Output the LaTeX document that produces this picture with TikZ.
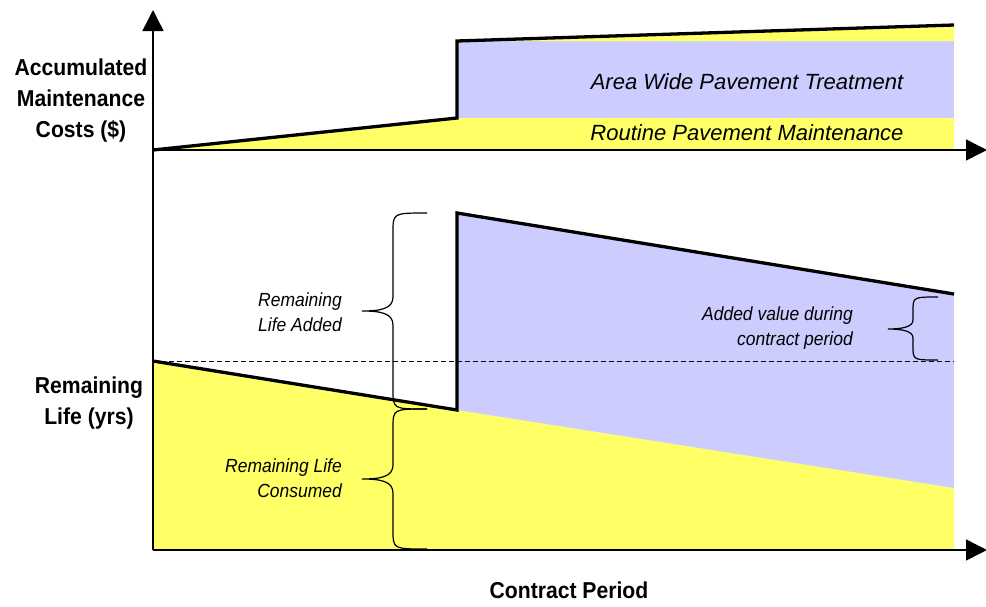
\documentclass[tikz,border=0pt]{standalone}
\usepackage{fontspec}
\setmainfont{Liberation Sans}
\newfontfamily\lblfont{Liberation Sans}[FakeStretch=0.92]
\usetikzlibrary{arrows.meta}
\definecolor{ylw}{HTML}{FFFF66}
\definecolor{blu}{HTML}{CCCCFF}
\tikzset{
  axis/.style={line width=1.4pt, -{Triangle[length=21pt,width=21pt]}},
  thick line/.style={line width=3.3pt, line join=miter},
  bracepath/.style={line width=1.2pt},
  biglabel/.style={font=\lblfont\bfseries\fontsize{23}{31}\selectfont, align=center, inner sep=0pt, anchor=base},
  arealabel/.style={font=\itshape\fontsize{22}{26}\selectfont, inner sep=0pt, anchor=base},
  smalllabel/.style={font=\lblfont\itshape\fontsize{19}{25}\selectfont, align=right, inner sep=0pt, anchor=base east},
}
\begin{document}
\begin{tikzpicture}[x=1pt,y=-1pt]
\useasboundingbox (0,0) rectangle (986,606);
% key points
\coordinate (O) at (153,550);
\coordinate (Ytop) at (153,10);
\coordinate (T0) at (153,150);
\coordinate (Txe) at (987,150);
\coordinate (Bxe) at (987,550);
% top chart fills
\fill[ylw] (153,150) -- (457,118) -- (457,150) -- cycle;
\fill[ylw] (457,118) rectangle (954,150);
\fill[blu] (457,41) rectangle (954,118);
\fill[ylw] (457,41) -- (954,25) -- (954,41) -- cycle;
% bottom chart fills
\fill[ylw] (153,361) -- (457,410) -- (954,488) -- (954,550) -- (153,550) -- cycle;
\fill[blu] (457,213) -- (954,294) -- (954,488) -- (457,410) -- cycle;
% dashed reference line
\draw[line width=0.9pt, dash pattern=on 5pt off 3pt] (153,361) -- (954,361);
% thick lines
\draw[thick line] (153,150) -- (457,118) -- (457,41) -- (954,25);
\draw[thick line] (153,361) -- (457,410) -- (457,213) -- (954,294);
% axes
\draw[axis] (O) -- (Ytop);
\draw[axis] (T0) -- (Txe);
\draw[axis] (O) -- (Bxe);
% braces
\draw[bracepath] (427,213) .. controls (393,213) and (393,213) .. (393,232)
  -- (393,297) .. controls (393,309) and (380,311) .. (362,311)
  .. controls (380,311) and (393,313) .. (393,325)
  -- (393,390) .. controls (393,409) and (393,409) .. (427,409);
\draw[bracepath] (427,409) .. controls (393,409) and (393,409) .. (393,428)
  -- (393,465) .. controls (393,477) and (380,479) .. (362,479)
  .. controls (380,479) and (393,481) .. (393,493)
  -- (393,530) .. controls (393,549) and (393,549) .. (427,549);
\draw[bracepath] (938,297) .. controls (913,297) and (913,297) .. (913,311)
  -- (913,320) .. controls (913,327) and (902,329) .. (888,329)
  .. controls (902,329) and (913,331) .. (913,338)
  -- (913,346) .. controls (913,360) and (913,360) .. (938,360);
% labels (base anchor = baseline of last line)
\node[biglabel] (ylabtop) at (81,137) {Accumulated\\Maintenance\\Costs (\$)};
\node[biglabel] (ylabbot) at (89,424) {Remaining\\Life (yrs)};
\node[biglabel] (xlab) at (569,598) {Contract Period};
\node[arealabel] (awpt) at (747,89) {Area Wide Pavement Treatment};
\node[arealabel] (rpm) at (747,140) {Routine Pavement Maintenance};
\node[smalllabel] (rla) at (342,331) {Remaining\\Life Added};
\node[smalllabel] (rlc) at (342,497) {Remaining Life\\Consumed};
\node[smalllabel] (avd) at (853,345) {Added value during\\contract period};
\end{tikzpicture}
\end{document}
